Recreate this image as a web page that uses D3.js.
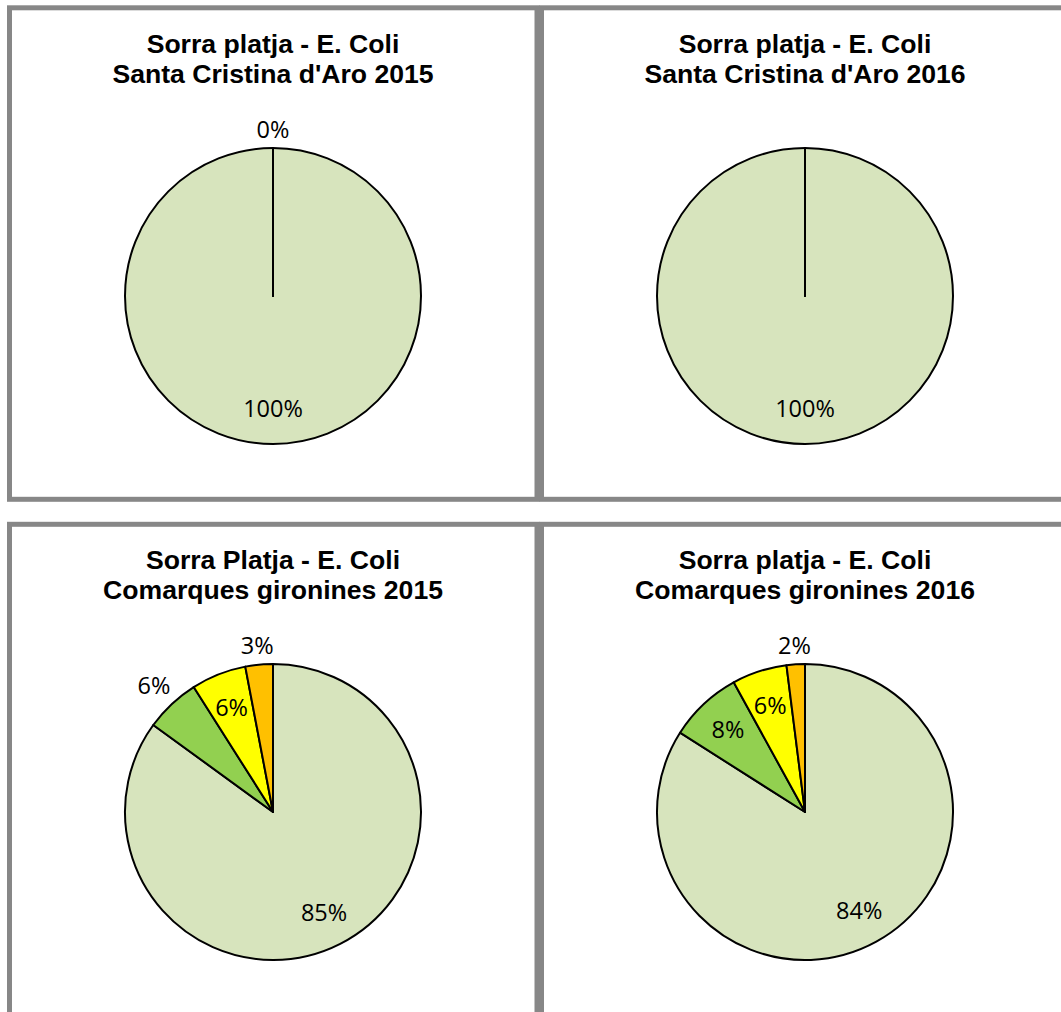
<!DOCTYPE html>
<html>
<head>
<meta charset="utf-8">
<script src="https://cdn.jsdelivr.net/npm/d3@7"></script>
<style>
  html, body { margin: 0; padding: 0; background: #fff; }
  svg { display: block; }
</style>
</head>
<body>
<svg id="chart" width="1061" height="1012"></svg>
<script>
// ---- data ----
const categories = ["Excel·lent", "Bona", "Suficient", "Insuficient"];
const titlesLine1 = ["Sorra platja - E. Coli", "Sorra platja - E. Coli", "Sorra Platja - E. Coli", "Sorra platja - E. Coli"];
const titlesLine2 = ["Santa Cristina d'Aro 2015", "Santa Cristina d'Aro 2016", "Comarques gironines 2015", "Comarques gironines 2016"];
// null = category without a label in the original chart
const valuesSCA2015 = [100, 0, null, null];
const valuesSCA2016 = [100, null, null, null];
const valuesCG2015 = [85, 6, 6, 3];
const valuesCG2016 = [84, 8, 6, 2];
const seriesValues = [valuesSCA2015, valuesSCA2016, valuesCG2015, valuesCG2016];

// ---- style / layout ----
const colors = ["#D7E4BD", "#92D050", "#FFFF00", "#FFC000"];
const labelPlacement = [
  ["in", "out", "out", "out"],
  ["in", "out", "out", "out"],
  ["in", "out", "in", "out"],
  ["in", "in", "in", "out"]
];
const panels = [
  { x: 9.5,   y: 7.8,   w: 527.5, h: 491.5 },
  { x: 541.5, y: 7.8,   w: 600,   h: 491.5 },
  { x: 9.5,   y: 524.3, w: 527.5, h: 600 },
  { x: 541.5, y: 524.3, w: 600,   h: 600 }
];
const pieCenters = [[273, 296], [805, 296], [273, 812], [805, 812]];
const radius = 148;

const svg = d3.select("#chart");

const pie = d3.pie().sort(null).value(d => d == null ? 0 : d);
const arc = d3.arc().innerRadius(0).outerRadius(radius);
const color = d3.scaleOrdinal().domain(categories).range(colors);

panels.forEach((p, i) => {
  svg.append("rect")
    .attr("x", p.x).attr("y", p.y).attr("width", p.w).attr("height", p.h)
    .attr("fill", "none").attr("stroke", "#878787").attr("stroke-width", 5);
});

seriesValues.forEach((vals, i) => {
  const [cx, cy] = pieCenters[i];
  const p = panels[i];
  const g = svg.append("g");

  const title = g.append("text")
    .attr("x", cx)
    .attr("text-anchor", "middle")
    .style("font-family", "'Liberation Sans', Arial, sans-serif")
    .style("font-weight", "bold")
    .style("font-size", "26.6px")
    .attr("fill", "#000");
  title.append("tspan").attr("x", cx).attr("y", p.y + 44.7).text(titlesLine1[i]);
  title.append("tspan").attr("x", cx).attr("y", p.y + 74.9).text(titlesLine2[i]);

  const pg = g.append("g").attr("transform", `translate(${cx},${cy})`);
  const arcs = pie(vals);

  pg.selectAll("path.slice")
    .data(arcs)
    .join("path")
    .attr("class", "slice")
    .attr("d", arc)
    .attr("fill", (d, j) => color(categories[j]))
    .attr("stroke", "#000")
    .attr("stroke-width", 2)
    .attr("stroke-linejoin", "round");

  arcs.forEach((d, j) => {
    if (d.data == null) return;
    const mid = (d.startAngle + d.endAngle) / 2;
    const s = Math.sin(mid), c = -Math.cos(mid);
    const t = pg.append("text")
      .attr("text-anchor", "middle")
      .attr("dy", "0.36em")
      .style("font-family", "'Open Sans', sans-serif")
      .style("font-size", "23.5px")
      .attr("fill", "#000")
      .text(d3.format(".0%")(d.data / 100));
    let dist;
    if (labelPlacement[i][j] === "in") {
      dist = radius * 0.76;
    } else {
      const bb = t.node().getBBox();
      const hw = bb.width / 2, hh = 12;
      dist = radius + 6 + hw * Math.abs(s) + hh * Math.abs(c);
    }
    t.attr("x", s * dist).attr("y", c * dist);
  });
});
</script>
</body>
</html>
